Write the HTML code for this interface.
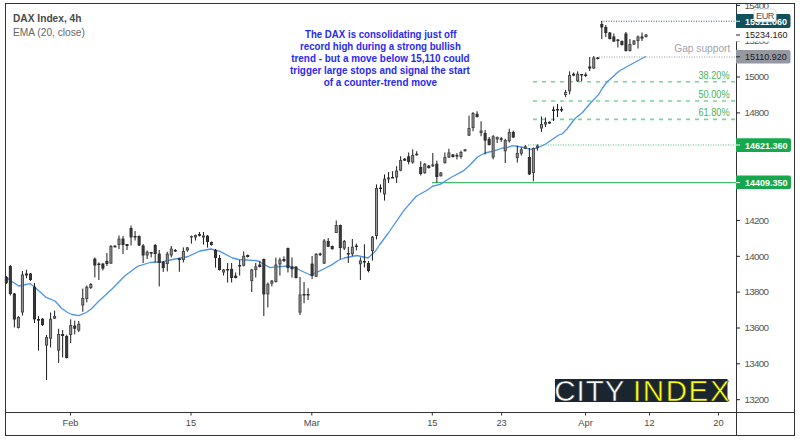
<!DOCTYPE html>
<html><head><meta charset="utf-8"><title>DAX Index, 4h</title>
<style>
html,body{margin:0;padding:0;background:#fff;}
body{width:800px;height:441px;overflow:hidden;position:relative;}
svg{position:absolute;left:0;top:0;}
.c line{stroke:#1c1c1c;stroke-width:1;}
.c rect.u{fill:#9c9c9c;stroke:#454545;stroke-width:1;}
.c rect.d{fill:#3c3c3c;stroke:#2a2a2a;stroke-width:1;}
text{font-family:"Liberation Sans",Arial,sans-serif;}
</style></head>
<body>
<svg width="800" height="441" viewBox="0 0 800 441">
<rect x="0" y="0" width="800" height="441" fill="#fff"/>
<!-- fib lines -->
<g stroke="#7cd49c" stroke-width="1.6" stroke-dasharray="4 5">
<line x1="533" y1="81.8" x2="736" y2="81.8"/>
<line x1="533" y1="101" x2="736" y2="101"/>
<line x1="533" y1="119.4" x2="736" y2="119.4"/>
</g>
<g font-size="10.3" fill="#43b463">
<text x="698.4" y="79.1" textLength="31.2" lengthAdjust="spacingAndGlyphs">38.20%</text>
<text x="698.4" y="98.2" textLength="31.2" lengthAdjust="spacingAndGlyphs">50.00%</text>
<text x="698.4" y="116.4" textLength="31.2" lengthAdjust="spacingAndGlyphs">61.80%</text>
</g>
<!-- horizontal level lines -->
<line x1="601" y1="21.25" x2="736" y2="21.25" stroke="#2e6672" stroke-width="1" stroke-dasharray="1 1.5"/>
<line x1="599" y1="57" x2="736" y2="57" stroke="#979aa2" stroke-width="1" stroke-dasharray="1 1.5"/>
<line x1="528" y1="145" x2="736" y2="145" stroke="#4cc074" stroke-width="1.1" stroke-dasharray="1 1.5"/>
<line x1="432" y1="182.6" x2="736" y2="182.6" stroke="#44be6e" stroke-width="1.3"/>
<text x="730.3" y="51.5" font-size="10.2" fill="#a0a3ab" text-anchor="end">Gap support</text>
<!-- EMA -->
<polyline points="6,277.4 12,281.5 18.75,286 23.75,285 30,283.6 36.25,288.6 46.25,297.4 55,301 58.75,305 61.25,308 67.5,312.5 72,314.5 78.75,315.6 86.25,312.5 91.25,309 95,305 100,300 105,295.5 112,289 125,275.75 128.75,273 137.5,266.4 150,262.5 162.5,261.75 175,259 187.5,256.75 200,251 211,249 220,251.4 232.5,258 238.75,259.5 257.5,260.75 270,267.6 282.5,266.4 288,266 295,267.6 300.5,270.5 310.5,275 316.75,272.4 325.5,268 331.75,264.9 338,260.5 344.25,258 356.75,255.5 368,258 375.5,251 379.4,245 388.75,232.5 403.75,210.6 416.25,196.25 427.5,190 432.5,186.25 440,184.4 451,177.5 463.75,170.6 470,165 477.5,157 485,153 495,150.6 502.5,148 507.5,147.5 512.5,145.6 521,147 531,149.4 537.5,148 546,143.75 558.75,135 562,134 567,129 575,118.5 582.5,112.5 585,109.5 591,102.5 598.75,94.4 602.5,88 607.5,81.25 610,79.5 617.5,72.5 620,70.5 630,65 640,59.5 646,56.5" fill="none" stroke="#4d94e8" stroke-width="1.3" stroke-linejoin="round"/>
<!-- candles -->
<g class="c">
<line x1="6.33" y1="276.00" x2="6.33" y2="284.00"/><rect class="d" x="5.33" y="277.50" width="2" height="5.00"/><line x1="10.35" y1="265.00" x2="10.35" y2="295.50"/><rect class="d" x="9.35" y="266.50" width="2" height="27.00"/><line x1="14.37" y1="293.00" x2="14.37" y2="327.50"/><rect class="d" x="13.37" y="294.00" width="2" height="25.00"/><line x1="18.4" y1="316.00" x2="18.4" y2="328.50"/><rect class="u" x="17.4" y="317.50" width="2" height="10.00"/><line x1="22.42" y1="271.00" x2="22.42" y2="315.60"/><rect class="u" x="21.42" y="275.00" width="2" height="37.00"/><line x1="26.44" y1="269.70" x2="26.44" y2="278.30"/><rect class="d" x="25.44" y="274.00" width="2" height="1.00"/><line x1="30.47" y1="273.00" x2="30.47" y2="281.00"/><rect class="d" x="29.47" y="274.00" width="2" height="5.50"/><line x1="34.49" y1="283.00" x2="34.49" y2="323.00"/><rect class="d" x="33.49" y="287.20" width="2" height="31.70"/><line x1="38.51" y1="316.00" x2="38.51" y2="350.60"/><rect class="d" x="37.51" y="319.50" width="2" height="0.60"/><line x1="42.54" y1="318.00" x2="42.54" y2="326.00"/><rect class="d" x="41.54" y="319.25" width="2" height="5.25"/><line x1="46.56" y1="335.00" x2="46.56" y2="380.00"/><rect class="u" x="45.56" y="337.50" width="2" height="7.60"/><line x1="50.58" y1="312.50" x2="50.58" y2="347.50"/><rect class="u" x="49.58" y="319.25" width="2" height="19.00"/><line x1="54.61" y1="310.60" x2="54.61" y2="319.00"/><rect class="u" x="53.61" y="316.50" width="2" height="1.75"/><line x1="58.63" y1="328.75" x2="58.63" y2="363.00"/><rect class="u" x="57.63" y="334.50" width="2" height="15.60"/><line x1="62.65" y1="330.00" x2="62.65" y2="357.50"/><rect class="d" x="61.65" y="334.50" width="2" height="1.00"/><line x1="66.68" y1="334.60" x2="66.68" y2="358.50"/><rect class="d" x="65.68" y="336.50" width="2" height="21.00"/><line x1="70.7" y1="319.40" x2="70.7" y2="343.00"/><rect class="u" x="69.7" y="325.50" width="2" height="9.00"/><line x1="74.72" y1="320.60" x2="74.72" y2="334.40"/><rect class="d" x="73.72" y="326.10" width="2" height="2.15"/><line x1="78.75" y1="321.00" x2="78.75" y2="332.00"/><rect class="u" x="77.75" y="324.25" width="2" height="5.85"/><line x1="82.77" y1="288.60" x2="82.77" y2="311.75"/><rect class="u" x="81.77" y="298.50" width="2" height="6.50"/><line x1="86.79" y1="285.50" x2="86.79" y2="302.40"/><rect class="u" x="85.79" y="287.20" width="2" height="11.30"/><line x1="90.82" y1="283.00" x2="90.82" y2="289.00"/><rect class="u" x="89.82" y="284.50" width="2" height="3.00"/><line x1="94.84" y1="257.50" x2="94.84" y2="277.40"/><rect class="d" x="93.84" y="259.10" width="2" height="5.90"/><line x1="98.86" y1="262.40" x2="98.86" y2="280.00"/><rect class="d" x="97.86" y="264.10" width="2" height="0.50"/><line x1="102.89" y1="263.00" x2="102.89" y2="270.50"/><rect class="d" x="101.89" y="264.10" width="2" height="4.00"/><line x1="106.91" y1="253.00" x2="106.91" y2="266.00"/><rect class="d" x="105.91" y="261.50" width="2" height="2.00"/><line x1="110.93" y1="245.00" x2="110.93" y2="264.00"/><rect class="u" x="109.93" y="246.50" width="2" height="16.60"/><line x1="114.96" y1="245.00" x2="114.96" y2="247.40"/><rect class="d" x="113.96" y="246.30" width="2" height="0.50"/><line x1="118.98" y1="235.50" x2="118.98" y2="249.00"/><rect class="u" x="117.98" y="239.10" width="2" height="5.40"/><line x1="123.0" y1="236.00" x2="123.0" y2="254.00"/><rect class="d" x="122.0" y="239.10" width="2" height="5.40"/><line x1="127.03" y1="244.00" x2="127.03" y2="250.00"/><rect class="d" x="126.03" y="244.50" width="2" height="1.00"/><line x1="131.05" y1="225.50" x2="131.05" y2="245.50"/><rect class="d" x="130.05" y="228.50" width="2" height="8.40"/><line x1="135.07" y1="231.00" x2="135.07" y2="240.50"/><rect class="d" x="134.07" y="236.50" width="2" height="0.50"/><line x1="139.1" y1="235.50" x2="139.1" y2="246.00"/><rect class="d" x="138.1" y="236.50" width="2" height="8.50"/><line x1="143.12" y1="244.00" x2="143.12" y2="263.00"/><rect class="d" x="142.12" y="246.00" width="2" height="9.00"/><line x1="147.14" y1="250.50" x2="147.14" y2="259.00"/><rect class="u" x="146.14" y="252.25" width="2" height="2.75"/><line x1="151.17" y1="252.00" x2="151.17" y2="257.40"/><rect class="d" x="150.17" y="252.50" width="2" height="0.60"/><line x1="155.19" y1="244.00" x2="155.19" y2="262.40"/><rect class="d" x="154.19" y="245.50" width="2" height="8.00"/><line x1="159.21" y1="250.00" x2="159.21" y2="286.40"/><rect class="d" x="158.21" y="254.10" width="2" height="8.40"/><line x1="163.24" y1="261.00" x2="163.24" y2="272.00"/><rect class="d" x="162.24" y="262.50" width="2" height="5.00"/><line x1="167.26" y1="251.75" x2="167.26" y2="271.40"/><rect class="u" x="166.26" y="254.10" width="2" height="9.40"/><line x1="171.28" y1="246.00" x2="171.28" y2="257.40"/><rect class="u" x="170.28" y="249.10" width="2" height="5.90"/><line x1="175.31" y1="249.00" x2="175.31" y2="252.00"/><rect class="d" x="174.31" y="250.50" width="2" height="0.50"/><line x1="179.33" y1="258.00" x2="179.33" y2="271.75"/><rect class="d" x="178.33" y="259.00" width="2" height="0.50"/><line x1="183.36" y1="247.40" x2="183.36" y2="262.40"/><rect class="u" x="182.36" y="251.50" width="2" height="8.00"/><line x1="187.38" y1="247.00" x2="187.38" y2="251.75"/><rect class="u" x="186.38" y="247.90" width="2" height="2.10"/><line x1="191.4" y1="235.50" x2="191.4" y2="243.60"/><rect class="u" x="190.4" y="236.50" width="2" height="0.50"/><line x1="195.43" y1="234.50" x2="195.43" y2="240.50"/><rect class="u" x="194.43" y="235.50" width="2" height="1.50"/><line x1="199.45" y1="232.00" x2="199.45" y2="236.50"/><rect class="d" x="198.45" y="234.50" width="2" height="0.75"/><line x1="203.47" y1="232.00" x2="203.47" y2="244.50"/><rect class="u" x="202.47" y="236.00" width="2" height="1.10"/><line x1="207.5" y1="235.00" x2="207.5" y2="247.60"/><rect class="d" x="206.5" y="236.25" width="2" height="5.25"/><line x1="211.52" y1="241.50" x2="211.52" y2="245.50"/><rect class="d" x="210.52" y="242.50" width="2" height="2.00"/><line x1="215.54" y1="249.00" x2="215.54" y2="267.60"/><rect class="d" x="214.54" y="250.50" width="2" height="7.00"/><line x1="219.57" y1="255.00" x2="219.57" y2="270.50"/><rect class="d" x="218.57" y="258.50" width="2" height="11.00"/><line x1="223.59" y1="269.00" x2="223.59" y2="275.60"/><rect class="u" x="222.59" y="270.00" width="2" height="2.00"/><line x1="227.61" y1="263.00" x2="227.61" y2="282.50"/><rect class="d" x="226.61" y="269.50" width="2" height="0.50"/><line x1="231.64" y1="263.00" x2="231.64" y2="282.50"/><rect class="d" x="230.64" y="269.25" width="2" height="8.25"/><line x1="235.66" y1="272.50" x2="235.66" y2="278.50"/><rect class="d" x="234.66" y="276.10" width="2" height="1.40"/><line x1="239.68" y1="260.00" x2="239.68" y2="275.60"/><rect class="d" x="238.68" y="265.50" width="2" height="0.50"/><line x1="243.71" y1="251.40" x2="243.71" y2="266.50"/><rect class="u" x="242.71" y="256.25" width="2" height="9.00"/><line x1="247.73" y1="254.50" x2="247.73" y2="257.50"/><rect class="d" x="246.73" y="255.50" width="2" height="1.00"/><line x1="251.75" y1="269.00" x2="251.75" y2="292.00"/><rect class="u" x="250.75" y="269.90" width="2" height="10.60"/><line x1="255.78" y1="263.00" x2="255.78" y2="277.50"/><rect class="u" x="254.78" y="266.90" width="2" height="2.60"/><line x1="259.8" y1="260.75" x2="259.8" y2="267.50"/><rect class="d" x="258.8" y="265.00" width="2" height="1.50"/><line x1="263.82" y1="258.50" x2="263.82" y2="316.00"/><rect class="d" x="262.82" y="259.50" width="2" height="34.40"/><line x1="267.85" y1="282.50" x2="267.85" y2="307.50"/><rect class="u" x="266.85" y="284.25" width="2" height="9.65"/><line x1="271.87" y1="280.00" x2="271.87" y2="286.40"/><rect class="u" x="270.87" y="281.10" width="2" height="2.15"/><line x1="275.89" y1="257.60" x2="275.89" y2="282.50"/><rect class="u" x="274.89" y="265.00" width="2" height="16.50"/><line x1="279.92" y1="257.60" x2="279.92" y2="275.60"/><rect class="u" x="278.92" y="260.00" width="2" height="4.00"/><line x1="283.94" y1="256.40" x2="283.94" y2="262.00"/><rect class="d" x="282.94" y="259.50" width="2" height="1.00"/><line x1="287.96" y1="247.50" x2="287.96" y2="272.50"/><rect class="d" x="286.96" y="248.50" width="2" height="19.00"/><line x1="291.99" y1="257.40" x2="291.99" y2="277.60"/><rect class="d" x="290.99" y="267.25" width="2" height="1.50"/><line x1="296.01" y1="266.00" x2="296.01" y2="278.50"/><rect class="d" x="295.01" y="267.25" width="2" height="10.25"/><line x1="300.03" y1="277.00" x2="300.03" y2="315.00"/><rect class="u" x="299.03" y="295.00" width="2" height="17.10"/><line x1="304.06" y1="282.00" x2="304.06" y2="303.25"/><rect class="d" x="303.06" y="294.50" width="2" height="0.50"/><line x1="308.08" y1="288.25" x2="308.08" y2="300.00"/><rect class="d" x="307.08" y="294.50" width="2" height="0.50"/><line x1="312.1" y1="256.00" x2="312.1" y2="279.00"/><rect class="d" x="311.1" y="264.10" width="2" height="11.40"/><line x1="316.13" y1="253.00" x2="316.13" y2="277.00"/><rect class="u" x="315.13" y="254.50" width="2" height="21.75"/><line x1="320.15" y1="252.50" x2="320.15" y2="256.00"/><rect class="d" x="319.15" y="254.10" width="2" height="0.50"/><line x1="324.17" y1="239.00" x2="324.17" y2="264.00"/><rect class="u" x="323.17" y="241.00" width="2" height="22.10"/><line x1="328.2" y1="238.00" x2="328.2" y2="247.00"/><rect class="d" x="327.2" y="241.50" width="2" height="4.75"/><line x1="332.22" y1="245.50" x2="332.22" y2="249.50"/><rect class="d" x="331.22" y="246.50" width="2" height="2.25"/><line x1="336.24" y1="220.50" x2="336.24" y2="233.00"/><rect class="u" x="335.24" y="225.50" width="2" height="7.00"/><line x1="340.27" y1="224.50" x2="340.27" y2="259.25"/><rect class="d" x="339.27" y="225.50" width="2" height="22.00"/><line x1="344.29" y1="240.00" x2="344.29" y2="250.00"/><rect class="u" x="343.29" y="241.50" width="2" height="6.60"/><line x1="348.31" y1="246.75" x2="348.31" y2="263.00"/><rect class="d" x="347.31" y="253.50" width="2" height="0.50"/><line x1="352.34" y1="239.00" x2="352.34" y2="256.00"/><rect class="u" x="351.34" y="247.25" width="2" height="6.50"/><line x1="356.36" y1="243.60" x2="356.36" y2="250.50"/><rect class="d" x="355.36" y="246.00" width="2" height="0.50"/><line x1="360.38" y1="257.40" x2="360.38" y2="280.00"/><rect class="u" x="359.38" y="261.00" width="2" height="2.75"/><line x1="364.41" y1="244.25" x2="364.41" y2="267.40"/><rect class="d" x="363.41" y="261.50" width="2" height="0.50"/><line x1="368.43" y1="261.00" x2="368.43" y2="272.40"/><rect class="d" x="367.43" y="263.50" width="2" height="7.00"/><line x1="372.45" y1="236.00" x2="372.45" y2="260.50"/><rect class="u" x="371.45" y="237.25" width="2" height="13.25"/><line x1="376.48" y1="184.40" x2="376.48" y2="239.40"/><rect class="u" x="375.48" y="188.50" width="2" height="47.00"/><line x1="380.5" y1="184.40" x2="380.5" y2="192.50"/><rect class="d" x="379.5" y="188.00" width="2" height="0.50"/><line x1="384.53" y1="174.40" x2="384.53" y2="200.60"/><rect class="u" x="383.53" y="179.25" width="2" height="14.65"/><line x1="388.55" y1="172.00" x2="388.55" y2="183.00"/><rect class="u" x="387.55" y="178.00" width="2" height="0.90"/><line x1="392.57" y1="171.25" x2="392.57" y2="178.00"/><rect class="d" x="391.57" y="177.50" width="2" height="0.50"/><line x1="396.6" y1="166.25" x2="396.6" y2="183.00"/><rect class="u" x="395.6" y="171.10" width="2" height="5.90"/><line x1="400.62" y1="156.25" x2="400.62" y2="171.25"/><rect class="u" x="399.62" y="160.50" width="2" height="9.60"/><line x1="404.64" y1="158.00" x2="404.64" y2="161.00"/><rect class="d" x="403.64" y="159.25" width="2" height="0.85"/><line x1="408.67" y1="152.50" x2="408.67" y2="164.40"/><rect class="d" x="407.67" y="156.75" width="2" height="4.75"/><line x1="412.69" y1="149.40" x2="412.69" y2="163.75"/><rect class="u" x="411.69" y="155.50" width="2" height="6.50"/><line x1="416.71" y1="151.25" x2="416.71" y2="155.60"/><rect class="d" x="415.71" y="154.25" width="2" height="0.50"/><line x1="420.74" y1="161.25" x2="420.74" y2="175.50"/><rect class="d" x="419.74" y="167.50" width="2" height="6.00"/><line x1="424.76" y1="163.00" x2="424.76" y2="173.75"/><rect class="u" x="423.76" y="164.25" width="2" height="8.35"/><line x1="428.78" y1="165.00" x2="428.78" y2="168.50"/><rect class="d" x="427.78" y="166.10" width="2" height="1.50"/><line x1="432.81" y1="153.00" x2="432.81" y2="167.00"/><rect class="u" x="431.81" y="164.90" width="2" height="0.85"/><line x1="436.83" y1="160.60" x2="436.83" y2="182.50"/><rect class="d" x="435.83" y="164.25" width="2" height="12.25"/><line x1="440.85" y1="172.00" x2="440.85" y2="176.50"/><rect class="u" x="439.85" y="173.00" width="2" height="2.75"/><line x1="444.88" y1="152.50" x2="444.88" y2="163.75"/><rect class="u" x="443.88" y="157.50" width="2" height="5.00"/><line x1="448.9" y1="148.75" x2="448.9" y2="158.00"/><rect class="u" x="447.9" y="153.00" width="2" height="4.00"/><line x1="452.92" y1="154.00" x2="452.92" y2="157.50"/><rect class="d" x="451.92" y="154.90" width="2" height="1.60"/><line x1="456.95" y1="153.00" x2="456.95" y2="159.40"/><rect class="d" x="455.95" y="155.50" width="2" height="0.50"/><line x1="460.97" y1="150.60" x2="460.97" y2="158.75"/><rect class="u" x="459.97" y="152.50" width="2" height="4.00"/><line x1="464.99" y1="149.00" x2="464.99" y2="151.50"/><rect class="u" x="463.99" y="149.90" width="2" height="0.85"/><line x1="469.02" y1="115.60" x2="469.02" y2="136.00"/><rect class="u" x="468.02" y="128.50" width="2" height="6.60"/><line x1="473.04" y1="112.00" x2="473.04" y2="131.25"/><rect class="u" x="472.04" y="113.50" width="2" height="14.00"/><line x1="477.06" y1="111.25" x2="477.06" y2="117.50"/><rect class="d" x="476.06" y="114.25" width="2" height="2.25"/><line x1="481.09" y1="121.25" x2="481.09" y2="136.25"/><rect class="u" x="480.09" y="131.10" width="2" height="1.40"/><line x1="485.11" y1="130.00" x2="485.11" y2="154.40"/><rect class="d" x="484.11" y="133.50" width="2" height="6.60"/><line x1="489.13" y1="137.00" x2="489.13" y2="145.50"/><rect class="d" x="488.13" y="139.25" width="2" height="5.25"/><line x1="493.16" y1="135.00" x2="493.16" y2="159.40"/><rect class="u" x="492.16" y="136.75" width="2" height="20.25"/><line x1="497.18" y1="136.50" x2="497.18" y2="143.00"/><rect class="u" x="496.18" y="137.50" width="2" height="1.40"/><line x1="501.2" y1="137.00" x2="501.2" y2="142.00"/><rect class="d" x="500.2" y="138.75" width="2" height="0.50"/><line x1="505.23" y1="138.75" x2="505.23" y2="163.00"/><rect class="u" x="504.23" y="140.50" width="2" height="10.25"/><line x1="509.25" y1="128.75" x2="509.25" y2="142.50"/><rect class="u" x="508.25" y="132.50" width="2" height="8.25"/><line x1="513.27" y1="130.60" x2="513.27" y2="138.00"/><rect class="d" x="512.27" y="132.50" width="2" height="4.50"/><line x1="517.3" y1="145.60" x2="517.3" y2="162.50"/><rect class="u" x="516.3" y="153.50" width="2" height="4.00"/><line x1="521.32" y1="147.50" x2="521.32" y2="155.60"/><rect class="u" x="520.32" y="149.90" width="2" height="3.35"/><line x1="525.34" y1="145.00" x2="525.34" y2="149.00"/><rect class="u" x="524.34" y="146.75" width="2" height="1.50"/><line x1="529.37" y1="148.00" x2="529.37" y2="175.00"/><rect class="d" x="528.37" y="157.50" width="2" height="16.40"/><line x1="533.39" y1="147.50" x2="533.39" y2="181.25"/><rect class="u" x="532.39" y="148.50" width="2" height="24.00"/><line x1="537.41" y1="144.40" x2="537.41" y2="150.60"/><rect class="u" x="536.41" y="146.10" width="2" height="1.40"/><line x1="541.44" y1="116.50" x2="541.44" y2="132.00"/><rect class="u" x="540.44" y="124.50" width="2" height="3.50"/><line x1="545.46" y1="117.50" x2="545.46" y2="127.00"/><rect class="u" x="544.46" y="122.50" width="2" height="1.50"/><line x1="549.48" y1="121.50" x2="549.48" y2="123.80"/><rect class="d" x="548.48" y="122.30" width="2" height="0.70"/><line x1="553.51" y1="106.50" x2="553.51" y2="121.00"/><rect class="d" x="552.51" y="110.00" width="2" height="0.50"/><line x1="557.53" y1="104.00" x2="557.53" y2="117.00"/><rect class="d" x="556.53" y="109.50" width="2" height="0.50"/><line x1="561.55" y1="106.50" x2="561.55" y2="112.00"/><rect class="d" x="560.55" y="109.50" width="2" height="0.50"/><line x1="565.58" y1="90.00" x2="565.58" y2="97.00"/><rect class="u" x="564.58" y="92.50" width="2" height="2.00"/><line x1="569.6" y1="71.25" x2="569.6" y2="94.40"/><rect class="u" x="568.6" y="75.50" width="2" height="15.25"/><line x1="573.62" y1="72.50" x2="573.62" y2="76.25"/><rect class="d" x="572.62" y="74.25" width="2" height="0.85"/><line x1="577.65" y1="71.25" x2="577.65" y2="82.00"/><rect class="u" x="576.65" y="74.25" width="2" height="6.50"/><line x1="581.67" y1="74.00" x2="581.67" y2="81.25"/><rect class="d" x="580.67" y="74.50" width="2" height="0.50"/><line x1="585.7" y1="72.50" x2="585.7" y2="77.00"/><rect class="d" x="584.7" y="75.00" width="2" height="0.50"/><line x1="589.72" y1="57.00" x2="589.72" y2="71.00"/><rect class="d" x="588.72" y="67.00" width="2" height="1.00"/><line x1="593.74" y1="56.00" x2="593.74" y2="69.00"/><rect class="u" x="592.74" y="58.00" width="2" height="10.00"/><line x1="597.77" y1="57.00" x2="597.77" y2="59.50"/><rect class="d" x="596.77" y="58.00" width="2" height="0.50"/><line x1="601.79" y1="21.00" x2="601.79" y2="39.00"/><rect class="d" x="600.79" y="24.50" width="2" height="2.50"/><line x1="605.81" y1="25.00" x2="605.81" y2="37.00"/><rect class="d" x="604.81" y="27.50" width="2" height="5.00"/><line x1="609.84" y1="32.00" x2="609.84" y2="39.50"/><rect class="d" x="608.84" y="33.00" width="2" height="5.50"/><line x1="613.86" y1="33.50" x2="613.86" y2="42.00"/><rect class="d" x="612.86" y="37.00" width="2" height="4.00"/><line x1="617.88" y1="39.00" x2="617.88" y2="47.50"/><rect class="d" x="616.88" y="40.00" width="2" height="0.50"/><line x1="621.91" y1="40.50" x2="621.91" y2="45.50"/><rect class="d" x="620.91" y="41.50" width="2" height="3.00"/><line x1="625.93" y1="32.00" x2="625.93" y2="51.50"/><rect class="d" x="624.93" y="34.00" width="2" height="16.50"/><line x1="629.95" y1="39.00" x2="629.95" y2="51.50"/><rect class="u" x="628.95" y="44.50" width="2" height="6.00"/><line x1="633.98" y1="40.00" x2="633.98" y2="45.00"/><rect class="u" x="632.98" y="41.00" width="2" height="3.00"/><line x1="638.0" y1="35.50" x2="638.0" y2="48.50"/><rect class="u" x="637.0" y="37.00" width="2" height="3.50"/><line x1="642.02" y1="32.50" x2="642.02" y2="41.00"/><rect class="d" x="641.02" y="37.00" width="2" height="1.00"/><line x1="646.05" y1="34.00" x2="646.05" y2="37.50"/><rect class="u" x="645.05" y="35.00" width="2" height="1.50"/>
</g>
<!-- annotation -->
<g font-size="10.6" font-weight="bold" fill="#2a2af5" lengthAdjust="spacingAndGlyphs">
<text x="305.0" y="37.5" textLength="151.4" lengthAdjust="spacingAndGlyphs">The DAX is consolidating just off</text>
<text x="300.0" y="49.6" textLength="160.9" lengthAdjust="spacingAndGlyphs">record high during a strong bullish</text>
<text x="291.2" y="61.8" textLength="178.4" lengthAdjust="spacingAndGlyphs">trend - but a move below 15,110 could</text>
<text x="290.0" y="74" textLength="179.9" lengthAdjust="spacingAndGlyphs">trigger large stops and signal the start</text>
<text x="323.7" y="86.4" textLength="113.4" lengthAdjust="spacingAndGlyphs">of a counter-trend move</text>
</g>
<!-- title -->
<text x="13" y="21.5" font-size="10.2" font-weight="bold" fill="#4a4a4a">DAX Index, 4h</text>
<text x="13" y="35.6" font-size="10.2" fill="#666">EMA (20, close)</text>
<!-- logo -->
<rect x="555" y="379" width="172.5" height="23" fill="#1b2530"/>
<text x="554.3" y="400.8" font-size="29.5" fill="#fff" letter-spacing="1" stroke="#1b2530" stroke-width="0.5">CITY</text>
<text x="633" y="400.8" font-size="29.5" fill="#ffff12" letter-spacing="1.6" stroke="#1b2530" stroke-width="0.5">INDEX</text>
<!-- frame -->
<g stroke="#333" stroke-width="1" fill="none">
<rect x="5.5" y="3.5" width="789" height="432"/>
<line x1="736.5" y1="3" x2="736.5" y2="436"/>
<line x1="5" y1="412.5" x2="795" y2="412.5"/>
</g>
<!-- price ticks & labels -->
<g stroke="#222" stroke-width="1"><line x1="736" y1="5.3" x2="740" y2="5.3"/><line x1="736" y1="41.1" x2="740" y2="41.1"/><line x1="736" y1="77.0" x2="740" y2="77.0"/><line x1="736" y1="112.9" x2="740" y2="112.9"/><line x1="736" y1="148.7" x2="740" y2="148.7"/><line x1="736" y1="184.6" x2="740" y2="184.6"/><line x1="736" y1="220.4" x2="740" y2="220.4"/><line x1="736" y1="256.3" x2="740" y2="256.3"/><line x1="736" y1="292.1" x2="740" y2="292.1"/><line x1="736" y1="328.0" x2="740" y2="328.0"/><line x1="736" y1="363.8" x2="740" y2="363.8"/><line x1="736" y1="399.7" x2="740" y2="399.7"/></g>
<clipPath id="pc"><rect x="737" y="4" width="57" height="408"/></clipPath>
<g font-size="9.8" fill="#555" letter-spacing="-0.75" clip-path="url(#pc)"><text x="744.6" y="8.5">15400</text><text x="744.6" y="44.3">15200</text><text x="744.6" y="80.2">15000</text><text x="744.6" y="116.1">14800</text><text x="744.6" y="151.9">14600</text><text x="744.6" y="187.8">14400</text><text x="744.6" y="223.6">14200</text><text x="744.6" y="259.5">14000</text><text x="744.6" y="295.3">13800</text><text x="744.6" y="331.2">13600</text><text x="744.6" y="367.0">13400</text><text x="744.6" y="402.9">13200</text></g>
<!-- time ticks & labels -->
<g stroke="#333" stroke-width="1"><line x1="70.5" y1="412" x2="70.5" y2="415.5"/><line x1="191" y1="412" x2="191" y2="415.5"/><line x1="311.8" y1="412" x2="311.8" y2="415.5"/><line x1="432.3" y1="412" x2="432.3" y2="415.5"/><line x1="501.6" y1="412" x2="501.6" y2="415.5"/><line x1="585.5" y1="412" x2="585.5" y2="415.5"/><line x1="649.5" y1="412" x2="649.5" y2="415.5"/><line x1="718.5" y1="412" x2="718.5" y2="415.5"/></g>
<g font-size="9.3" fill="#4a4a4a" text-anchor="middle"><text x="70.5" y="426">Feb</text><text x="191" y="426">15</text><text x="311.8" y="426">Mar</text><text x="432.3" y="426">15</text><text x="501.6" y="426">23</text><text x="585.5" y="426">Apr</text><text x="649.5" y="426">12</text><text x="718.5" y="426">20</text></g>
<!-- price labels -->
<rect x="736" y="28" width="55" height="13.5" fill="#fff"/>
<line x1="736" y1="35" x2="740" y2="35" stroke="#222"/>
<text x="745" y="38.3" font-size="9" fill="#222">15234.160</text>
<path d="M736 14 H788.5 A2 2 0 0 1 790.5 16 V26 A2 2 0 0 1 788.5 28 H736 Z" fill="#12505c"/>
<line x1="736" y1="21.25" x2="740" y2="21.25" stroke="#e0e8ea"/>
<text x="745" y="24.6" font-size="9" font-weight="bold" fill="#fff">15311.060</text>
<rect x="754" y="9" width="22" height="12.8" rx="3" fill="#fff" stroke="#dde0e4" stroke-width="1"/>
<text x="765" y="19.3" font-size="9.2" fill="#555" text-anchor="middle" letter-spacing="-0.5">EUR</text>
<path d="M736 50 H788.5 A2 2 0 0 1 790.5 52 V61.5 A2 2 0 0 1 788.5 63.5 H736 Z" fill="#9598a1"/>
<line x1="736" y1="56.8" x2="740" y2="56.8" stroke="#222"/>
<text x="745" y="60.3" font-size="9" fill="#1a1a1a">15110.920</text>
<path d="M736 138.3 H789 A2 2 0 0 1 791 140.3 V149.9 A2 2 0 0 1 789 151.9 H736 Z" fill="#16a84c"/>
<line x1="736" y1="145" x2="740" y2="145" stroke="#fff"/>
<text x="745" y="148.5" font-size="9" font-weight="bold" fill="#fff">14621.360</text>
<path d="M736 175.6 H789 A2 2 0 0 1 791 177.6 V187.1 A2 2 0 0 1 789 189.1 H736 Z" fill="#16a84c"/>
<line x1="736" y1="182.6" x2="740" y2="182.6" stroke="#fff"/>
<text x="745" y="186" font-size="9" font-weight="bold" fill="#fff">14409.350</text>
</svg>
</body></html>
